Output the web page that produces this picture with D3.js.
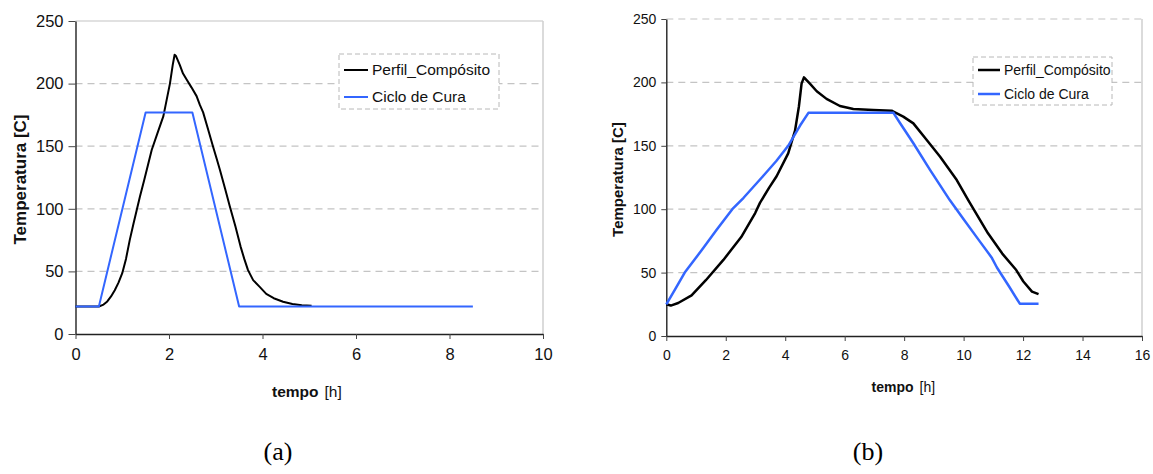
<html lang="en">
<head>
<style>
body { margin: 0; background: #fff; }
svg text { font-family: Arial, "Liberation Sans", sans-serif; }
</style>
</head>
<body>
<script type='text/javascript' src='https://d3js.org/d3.v7.min.js'></script>
<script>
// curve data, [tempo h, temperatura C]
const perfilA = [
[0,22],[0.5,22],[0.6,23.5],[0.68,26],[0.76,30],[0.84,35],[0.92,41],[1.0,48.6],[1.08,60],[1.16,75],
[1.24,88],[1.31,99],[1.38,110],[1.47,123],[1.55,135],[1.63,147],[1.75,160],[1.88,174],[1.95,187],
[2.02,200],[2.08,215],[2.12,223],[2.15,222],[2.23,215],[2.3,208],[2.38,203],[2.48,197],[2.59,190],
[2.66,183],[2.73,177],[2.84,163],[2.94,150],[3.02,140],[3.09,131],[3.2,116],[3.3,102],[3.42,86],
[3.53,70],[3.61,60],[3.69,51],[3.8,43],[3.93,38],[4.08,32],[4.24,28.6],[4.44,25.8],[4.64,24],
[4.84,23],[5.05,22.5]
];
const cicloA = [[0,22],[0.5,22],[1.5,177],[2.5,177],[3.5,22],[8.5,22]];

const perfilB = [
[0,25],[0.15,24],[0.4,26],[0.85,32],[1.33,44],[1.92,60],[2.52,78],[2.99,97],[3.15,105],[3.46,117],
[3.71,126],[4.1,144],[4.33,162],[4.46,181],[4.55,199],[4.63,204],[4.83,199],[5.06,193],[5.39,187],
[5.84,181.4],[6.29,179],[6.96,178.2],[7.58,177.7],[7.64,177],[7.97,173],[8.31,167.7],[8.76,154.6],
[9.21,141.4],[9.77,123],[10.16,107],[10.35,99.4],[10.82,81],[11.3,65],[11.77,52],[12.01,43],
[12.3,35],[12.52,33]
];
const cicloB = [
[0,25],[0.3,37],[0.62,50],[1.2,68],[1.7,84],[2.22,100],[2.6,109],[3.25,126],[3.7,138],[4.1,150],
[4.5,166],[4.78,176],[7.64,176],[7.86,168],[8.31,152],[8.87,131],[9.54,107],[10.0,92],[10.5,76],
[10.94,62],[11.12,54],[11.53,39],[11.89,25.5],[12.52,25.5]
];

const yTicks = [0, 50, 100, 150, 200, 250];
const xTicksA = [0, 2, 4, 6, 8, 10];
const xTicksB = [0, 2, 4, 6, 8, 10, 12, 14, 16];
const seriesNames = ["Perfil_Compósito", "Ciclo de Cura"];
const seriesColors = ["#000000", "#3366ff"];
const panelLabels = ["(a)", "(b)"];

var svg = d3.select("body").append("svg")
.attr("width", 1153)
.attr("height", 474);

// one panel
function drawPanel(p) {
var x = d3.scaleLinear().domain([p.xTicks[0], p.xTicks[p.xTicks.length - 1]]).range([p.left, p.right]);
var y = d3.scaleLinear().domain([0, 250]).range([p.bottom, p.top]);

// grid
svg.selectAll(null)
.data(yTicks.filter(function(d) { return d > 0 && (p.dashTop || d < 250); }))
.enter().append("line")
.attr("x1", p.left).attr("x2", p.right)
.attr("y1", function(d) { return y(d); }).attr("y2", function(d) { return y(d); })
.attr("stroke", "#c4c4c4").attr("stroke-width", 1.2)
.attr("stroke-dasharray", "7,5");
if (!p.dashTop) {
svg.append("line").attr("x1", p.left).attr("x2", p.right)
.attr("y1", y(250)).attr("y2", y(250))
.attr("stroke", "#c4c4c4").attr("stroke-width", 1.2);
}
svg.append("line").attr("x1", p.right).attr("x2", p.right)
.attr("y1", y(250)).attr("y2", y(0))
.attr("stroke", "#cfcfcf").attr("stroke-width", 1.5);

// axes
var gx = svg.append("g")
.attr("transform", "translate(0," + p.bottom + ")")
.call(d3.axisBottom(x).tickValues(p.xTicks).tickSize(5).tickSizeOuter(0).tickPadding(9));
var gy = svg.append("g")
.attr("transform", "translate(" + p.left + ",0)")
.call(d3.axisLeft(y).tickValues(yTicks).tickSize(p.tickLen).tickSizeOuter(0).tickPadding(5));
[gx, gy].forEach(function(g) {
g.select(".domain").attr("stroke", "#222").attr("stroke-width", 1.4);
g.selectAll(".tick line").attr("stroke", "#444");
g.selectAll("text").attr("fill", "#111").style("font-size", p.tickFont + "px").attr("font-family", null);
});

// curves
var line = d3.line().x(function(d) { return x(d[0]); }).y(function(d) { return y(d[1]); });
[p.perfil, p.ciclo].forEach(function(s, i) {
svg.append("path").datum(s)
.attr("d", line)
.attr("fill", "none")
.attr("stroke", seriesColors[i])
.attr("stroke-width", p.lineW)
.attr("stroke-linejoin", "round");
});

// axis titles
svg.append("text")
.attr("transform", "translate(" + p.yTitleX + "," + ((p.top + p.bottom) / 2 + 2) + ") rotate(-90)")
.attr("text-anchor", "middle")
.attr("dy", "0.35em")
.style("font-size", p.yTitleFont + "px")
.style("font-weight", "bold")
.attr("fill", "#111")
.text("Temperatura [C]");
var xt = svg.append("text")
.attr("x", p.xTitleX).attr("y", p.xTitleY)
.attr("dy", "0.35em")
.style("font-size", p.xTitleFont + "px")
.attr("fill", "#111");
xt.append("tspan").style("font-weight", "bold").text("tempo");
xt.append("tspan").attr("dx", 6).text("[h]");

// legend
var lg = svg.append("g").attr("transform", "translate(" + p.legX + "," + p.legY + ")");
lg.append("rect")
.attr("width", p.legW).attr("height", p.legH)
.attr("fill", "#fff")
.attr("stroke", "#b8b8b8").attr("stroke-dasharray", "5,3");
seriesNames.forEach(function(n, i) {
var yy = p.legRow0 + i * p.legStep;
lg.append("line").attr("x1", 5).attr("x2", 5 + p.legLine)
.attr("y1", yy).attr("y2", yy)
.attr("stroke", seriesColors[i]).attr("stroke-width", p.lineW);
lg.append("text").attr("x", 9 + p.legLine).attr("y", yy)
.attr("dy", "0.35em")
.style("font-size", p.legFont + "px")
.attr("fill", "#111")
.text(n);
});

// caption
svg.append("text")
.attr("x", p.capX).attr("y", 460)
.attr("text-anchor", "middle")
.style("font-family", "'Liberation Serif', 'Times New Roman', serif")
.style("font-size", "26px")
.attr("fill", "#000")
.text(p.caption);
}

drawPanel({
perfil: perfilA, ciclo: cicloA, xTicks: xTicksA, caption: panelLabels[0],
left: 75.5, right: 543, top: 21, bottom: 334,
tickLen: 7, tickFont: 16.5, lineW: 2, dashTop: false,
yTitleX: 20, yTitleFont: 17, xTitleX: 272, xTitleY: 392, xTitleFont: 15.5,
legX: 339, legY: 54, legW: 160, legH: 55, legRow0: 16, legStep: 27, legLine: 24, legFont: 15.5,
capX: 278
});
drawPanel({
perfil: perfilB, ciclo: cicloB, xTicks: xTicksB, caption: panelLabels[1],
left: 666.3, right: 1142, top: 19, bottom: 336,
tickLen: 5, tickFont: 14, lineW: 2.5, dashTop: true,
yTitleX: 617.5, yTitleFont: 15, xTitleX: 871.5, xTitleY: 387, xTitleFont: 14,
legX: 973, legY: 57, legW: 139, legH: 48, legRow0: 13, legStep: 24, legLine: 22, legFont: 14,
capX: 868
});
</script>
</body>
</html>
